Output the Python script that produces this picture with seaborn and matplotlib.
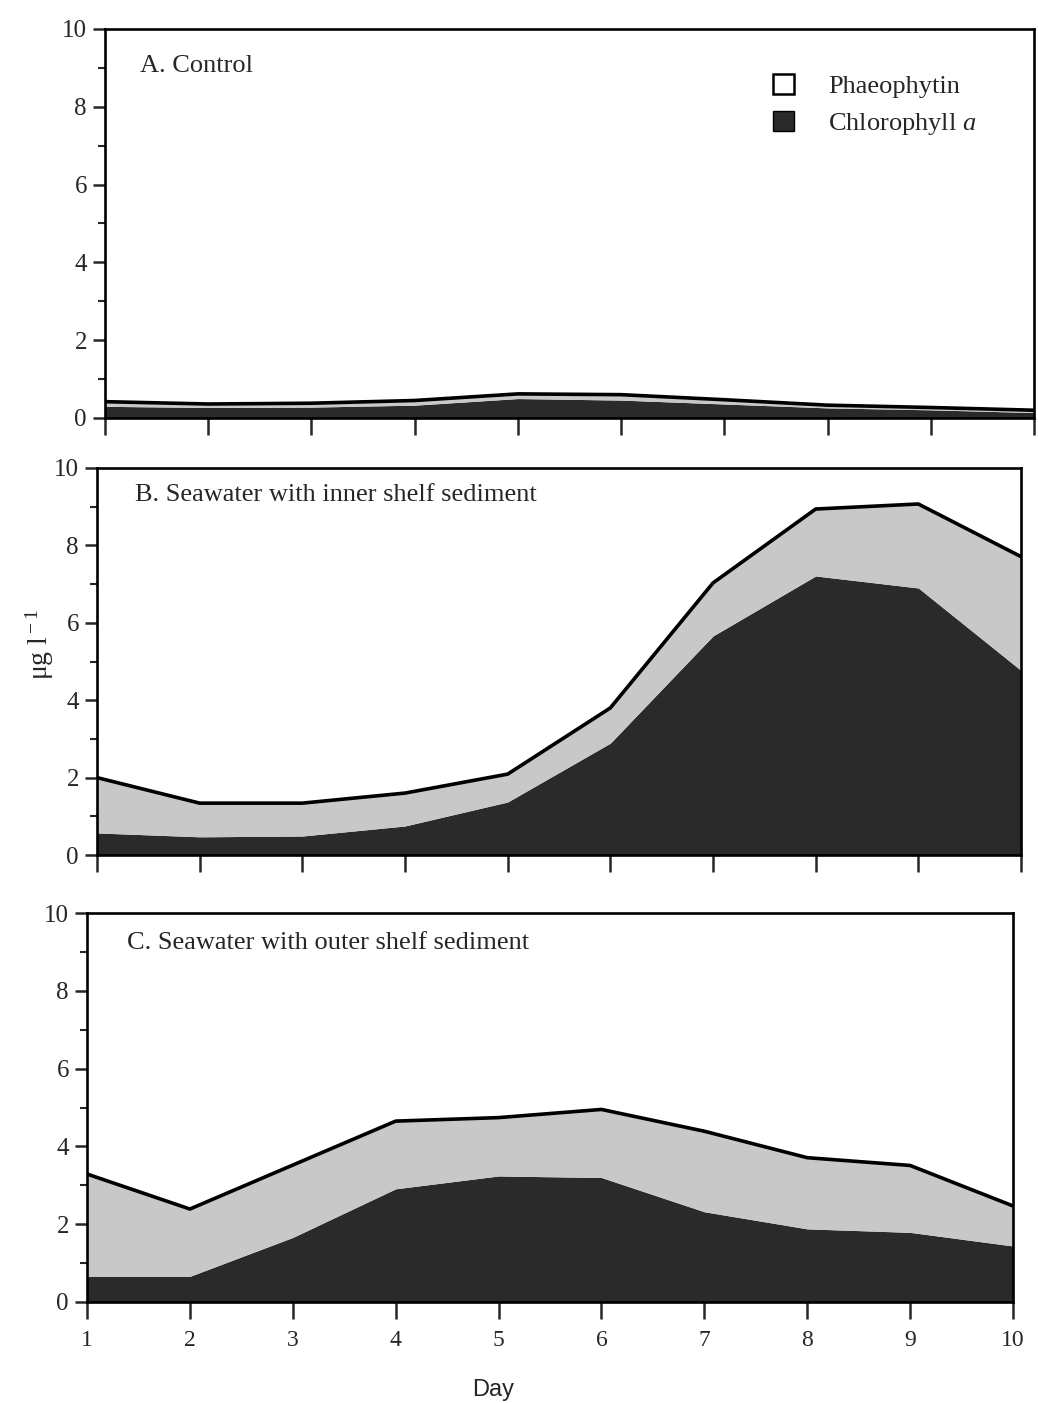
import matplotlib
matplotlib.use("Agg")
import matplotlib.pyplot as plt
from matplotlib.patches import Patch
from matplotlib.ticker import MultipleLocator
import numpy as np
import pandas as pd
import seaborn as sns

# Sampling days
days = [1, 2, 3, 4, 5, 6, 7, 8, 9, 10]

# A. Control (ug/l)
chl_control = [0.30, 0.27, 0.28, 0.33, 0.50, 0.46, 0.36, 0.26, 0.21, 0.14]
phaeo_control = [0.12, 0.09, 0.10, 0.12, 0.12, 0.14, 0.11, 0.07, 0.06, 0.06]

# B. Seawater with inner shelf sediment
chl_inner = [0.57, 0.47, 0.49, 0.75, 1.37, 2.89, 5.66, 7.21, 6.90, 4.77]
phaeo_inner = [1.43, 0.87, 0.85, 0.85, 0.72, 0.91, 1.37, 1.73, 2.17, 2.94]

# C. Seawater with outer shelf sediment
chl_outer = [0.66, 0.66, 1.66, 2.91, 3.24, 3.20, 2.32, 1.88, 1.79, 1.44]
phaeo_outer = [2.63, 1.73, 1.86, 1.74, 1.50, 1.75, 2.07, 1.83, 1.72, 1.03]

panel_titles = [
    "A. Control",
    "B. Seawater with inner shelf sediment",
    "C. Seawater with outer shelf sediment",
]
legend_labels = ["Phaeophytin", r"Chlorophyll $\mathit{a}$"]

CHL_COLOR = "#2a2a2a"
PHAEO_COLOR = "#c8c8c8"

sns.set_theme(style="ticks")
plt.rcParams["font.family"] = ["Liberation Serif", "DejaVu Serif"]
plt.rcParams["mathtext.fontset"] = "custom"
plt.rcParams["mathtext.rm"] = "Liberation Serif"
plt.rcParams["mathtext.it"] = "Liberation Serif:italic"

W, H = 1038, 1403
fig = plt.figure(figsize=(W / 100, H / 100), dpi=100)


def panel(left, top, right, bottom):
    return fig.add_axes([left / W, 1 - bottom / H, (right - left) / W, (bottom - top) / H])


boxes = [(105, 29, 1034, 418), (97, 468, 1021, 855), (87, 913, 1013, 1302)]
series = [(chl_control, phaeo_control), (chl_inner, phaeo_inner), (chl_outer, phaeo_outer)]
title_pos = [(0.038, 0.905), (0.041, 0.93), (0.043, 0.923)]

for i, (box, (chl, phaeo), title) in enumerate(zip(boxes, series, panel_titles)):
    ax = panel(*box)
    df = pd.DataFrame({"Day": days, "chl": chl, "phaeo": phaeo})
    df["total"] = df["chl"] + df["phaeo"]

    ax.fill_between(df["Day"], 0, df["chl"], color=CHL_COLOR, lw=0, zorder=1)
    ax.fill_between(df["Day"], df["chl"], df["total"], color=PHAEO_COLOR, lw=0, zorder=1)
    sns.lineplot(data=df, x="Day", y="total", color="black", lw=2.6, ax=ax, zorder=3)

    ax.set_xlim(1, 10)
    ax.set_ylim(0, 10)
    ax.yaxis.set_major_locator(MultipleLocator(2))
    ax.yaxis.set_minor_locator(MultipleLocator(1))
    ax.xaxis.set_major_locator(MultipleLocator(1))
    ax.tick_params(axis="y", which="major", direction="out", length=9, width=1.8,
                   labelsize=18, pad=4)
    ax.tick_params(axis="y", which="minor", direction="out", length=5, width=1.5)
    ax.tick_params(axis="x", which="major", direction="out", length=12, width=1.8,
                   labelsize=17, pad=8)
    for s in ax.spines.values():
        s.set_linewidth(1.9)
        s.set_color("black")
        s.set_visible(True)
    ax.set_xlabel("")
    ax.set_ylabel("")
    if i < 2:
        ax.set_xticklabels([])
    ax.text(title_pos[i][0], title_pos[i][1], title, transform=ax.transAxes,
            fontsize=19, va="center", ha="left")

    if i == 0:
        handles = [Patch(facecolor="white", edgecolor="black", lw=1.8),
                   Patch(facecolor=CHL_COLOR, edgecolor="black", lw=1.0)]
        ax.legend(handles, legend_labels, loc="upper left",
                  bbox_to_anchor=((749 - 105) / 929, (418 - 50) / 389),
                  frameon=False, fontsize=19, handlelength=0.8, handleheight=0.8,
                  handletextpad=1.3, labelspacing=0.5)

fig.text(40 / W, 1 - 645 / H, r"μg l$^{\rm -1}$", rotation=90, ha="center", va="center",
         fontsize=20)
fig.text(493 / W, 1 - 1390 / H, "Day", ha="center", va="center", fontsize=17,
         family=["Liberation Sans", "DejaVu Sans"])

fig.savefig("out.png", dpi=100, facecolor="white")
